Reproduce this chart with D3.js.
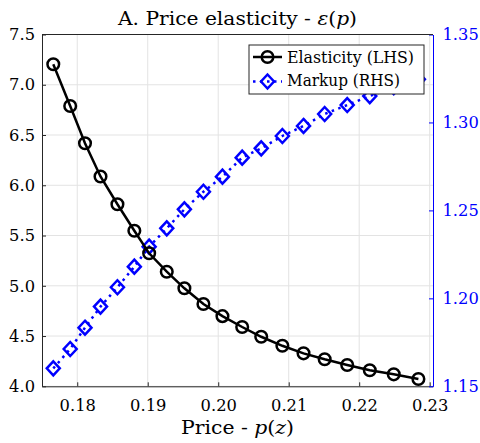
<!DOCTYPE html>
<html><head><meta charset="utf-8">
<script src="https://cdn.jsdelivr.net/npm/d3@7"></script>
<style>body{margin:0;background:#fff}svg{display:block}</style>
</head><body><div id="c"></div>
<script>
const price = [0.1766,0.1790,0.1811,0.1833,0.1857,0.1881,0.1902,0.1927,0.1952,0.1979,0.2006,0.2034,0.2061,0.2091,0.2121,0.2151,0.2183,0.2215,0.2249,0.2284];
const elasticity = [7.204,6.789,6.418,6.088,5.811,5.548,5.323,5.140,4.975,4.819,4.698,4.590,4.493,4.403,4.328,4.269,4.212,4.159,4.119,4.073];
const markup = [1.1602,1.1712,1.1833,1.1953,1.2063,1.2180,1.2294,1.2398,1.2506,1.2606,1.2692,1.2800,1.2853,1.2923,1.2980,1.3048,1.3099,1.3150,1.3200,1.3245];
const xTicks = [0.18,0.19,0.20,0.21,0.22,0.23];
const yLeftTicks = [4.0,4.5,5.0,5.5,6.0,6.5,7.0,7.5];
const yRightTicks = [1.15,1.20,1.25,1.30,1.35];
const seriesNames = ["Elasticity (LHS)","Markup (RHS)"];

const FF="'DejaVu Serif', serif";
const W=480,H=443;
const m={l:42,r:47,t:34.5,b:56.7};
const svg=d3.select("#c").append("svg").attr("width",W).attr("height",H).style("font-family",FF);
const x=d3.scaleLinear().domain([0.175,0.23047]).range([m.l,W-m.r]);
const yL=d3.scaleLinear().domain([4.0,7.5]).range([H-m.b,m.t]);
const yR=d3.scaleLinear().domain([1.15,1.35]).range([H-m.b,m.t]);
const axc="#262626", blue="#0000ff";
const TS="16.3px";

// grid
const g=svg.append("g");
g.selectAll(".gx").data(xTicks).join("line").attr("x1",d=>x(d)).attr("x2",d=>x(d)).attr("y1",m.t).attr("y2",H-m.b).attr("stroke","#e3e3e3").attr("stroke-width",1);
g.selectAll(".gy").data(yLeftTicks).join("line").attr("y1",d=>yL(d)).attr("y2",d=>yL(d)).attr("x1",m.l).attr("x2",W-m.r).attr("stroke","#e3e3e3").attr("stroke-width",1);

// axes
const ax=d3.axisBottom(x).tickValues(xTicks).tickFormat(d3.format(".2f")).tickSizeInner(-4).tickSizeOuter(0).tickPadding(13);
const xg=svg.append("g").attr("transform",`translate(0,${H-m.b})`).call(ax);
const ayl=d3.axisLeft(yL).tickValues(yLeftTicks).tickFormat(d3.format(".1f")).tickSizeInner(-4).tickSizeOuter(0).tickPadding(7);
const ylg=svg.append("g").attr("transform",`translate(${m.l},0)`).call(ayl);
const ayr=d3.axisRight(yR).tickValues(yRightTicks).tickFormat(d3.format(".2f")).tickSizeInner(-4).tickSizeOuter(0).tickPadding(9.5);
const yrg=svg.append("g").attr("transform",`translate(${W-m.r},0)`).call(ayr);
[xg,ylg,yrg].forEach(a=>a.attr("font-family",null));
[xg,ylg].forEach(a=>{a.select(".domain").attr("stroke",axc);a.selectAll(".tick line").attr("stroke",axc);a.selectAll("text").attr("fill","#000").style("font-size",TS).style("font-family",FF);});
yrg.select(".domain").attr("stroke",blue);yrg.selectAll(".tick line").attr("stroke",blue);
yrg.selectAll("text").attr("fill",blue).style("font-size",TS).style("font-family",FF);
svg.append("line").attr("x1",m.l).attr("x2",W-m.r).attr("y1",m.t).attr("y2",m.t).attr("stroke",axc);

// series
const lineL=d3.line().x((d,i)=>x(price[i])).y(d=>yL(d));
const lineR=d3.line().x((d,i)=>x(price[i])).y(d=>yR(d));
svg.append("path").attr("d",lineR(markup)).attr("fill","none").attr("stroke",blue).attr("stroke-width",2.5).attr("stroke-dasharray","2.5,4.5");
svg.append("g").selectAll("path").data(markup).join("path").attr("transform",(d,i)=>`translate(${x(price[i])},${yR(d)})`).attr("d","M0,-7L6.5,0L0,7L-6.5,0Z").attr("fill","none").attr("stroke",blue).attr("stroke-width",2.5);
svg.append("path").attr("d",lineL(elasticity)).attr("fill","none").attr("stroke","#000").attr("stroke-width",2.5);
svg.append("g").selectAll("circle").data(elasticity).join("circle").attr("cx",(d,i)=>x(price[i])).attr("cy",d=>yL(d)).attr("r",5.8).attr("fill","none").attr("stroke","#000").attr("stroke-width",2.5);

// legend
const lg=svg.append("g");
lg.append("rect").attr("x",249).attr("y",45).attr("width",175).attr("height",49).attr("fill","#fff").attr("stroke",axc).attr("stroke-width",1);
lg.append("line").attr("x1",253).attr("x2",282).attr("y1",57).attr("y2",57).attr("stroke","#000").attr("stroke-width",2.5);
lg.append("circle").attr("cx",267.5).attr("cy",57).attr("r",5.8).attr("fill","none").attr("stroke","#000").attr("stroke-width",2.5);
lg.append("line").attr("x1",253).attr("x2",282).attr("y1",81.5).attr("y2",81.5).attr("stroke",blue).attr("stroke-width",2.5).attr("stroke-dasharray","2.5,4.5");
lg.append("path").attr("transform","translate(267.5,81.5)").attr("d","M0,-7L6.5,0L0,7L-6.5,0Z").attr("fill","none").attr("stroke",blue).attr("stroke-width",2.5);
lg.selectAll(".lt").data(seriesNames).join("text").attr("x",287).attr("y",(d,i)=>62.5+i*23.5).text(d=>d).style("font-size","16px").style("font-family",FF).attr("fill","#000").attr("textLength",d=>d.startsWith("E")?127:113).attr("lengthAdjust","spacingAndGlyphs");

// title & label
const tt=svg.append("text").attr("x",(m.l+W-m.r)/2).attr("y",25).attr("text-anchor","middle").style("font-size","19px").style("font-family",FF).attr("fill","#000").attr("textLength",239).attr("lengthAdjust","spacingAndGlyphs");
tt.append("tspan").text("A. Price elasticity - ");
tt.append("tspan").text("ε").style("font-style","italic");
tt.append("tspan").text("(");
tt.append("tspan").text("p").style("font-style","italic");
tt.append("tspan").text(")");
const xl=svg.append("text").attr("x",(m.l+W-m.r)/2).attr("y",434).attr("text-anchor","middle").style("font-size","19px").style("font-family",FF).attr("fill","#000").attr("textLength",113).attr("lengthAdjust","spacingAndGlyphs");
xl.append("tspan").text("Price - ");
xl.append("tspan").text("p").style("font-style","italic");
xl.append("tspan").text("(");
xl.append("tspan").text("z").style("font-style","italic");
xl.append("tspan").text(")");
</script></body></html>
